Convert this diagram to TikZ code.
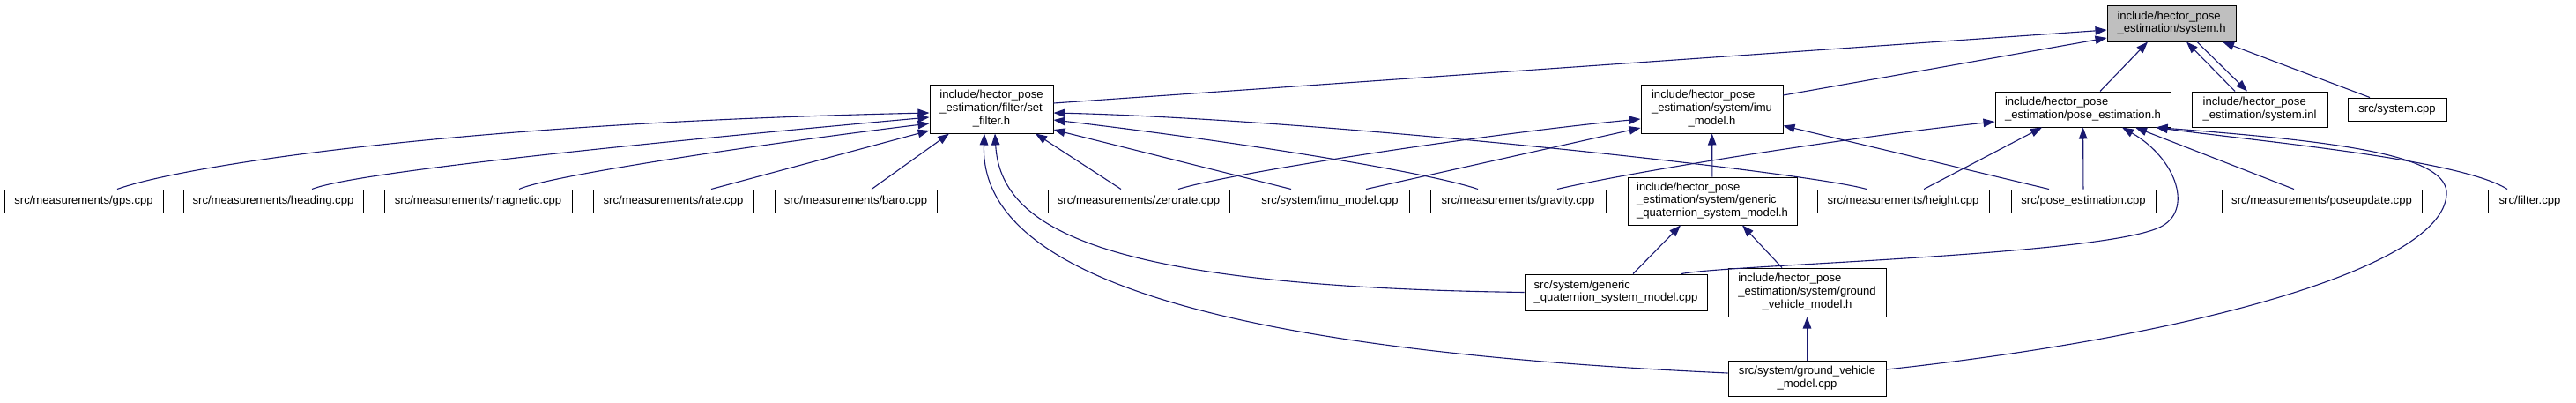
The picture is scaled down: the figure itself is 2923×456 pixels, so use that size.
\documentclass[tikz,border=0pt]{standalone}
\usepackage{fontspec}
\setmainfont{Liberation Sans}
\usepackage{tikz}
\usetikzlibrary{arrows.meta, positioning}

\definecolor{incl}{HTML}{191970}
\definecolor{curfile}{HTML}{BFBFBF}
\newcommand{\dox}{\fontsize{13.1}{14.7}\selectfont}
% left aligned lines, last line centred (as doxygen does)
\newcommand{\dlab}[2]{\begin{tabular}{@{}l@{}}#1\\\multicolumn{1}{@{}c@{}}{#2}\end{tabular}}

\begin{document}
\begin{tikzpicture}[x=1pt, y=-1pt, >={Triangle[length=13pt,width=9.5pt]},
    box/.style={draw=black, line width=1pt, fill=white, rectangle, inner sep=0pt, font=\dox},
    dep/.style={->, incl, line width=1.1pt}]
    \useasboundingbox (0,0) rectangle (2923,456);

    % headers
    \node[box, fill=curfile, minimum width=146pt, minimum height=41pt] (sysh) at (2464,26.5) {\dlab{include/hector\_pose}{\_estimation/system.h}};
    \node[box, minimum width=140pt, minimum height=55pt] (setfilter) at (1125,123.5) {\dlab{include/hector\_pose\\\_estimation/filter/set}{\_filter.h}};
    \node[box, minimum width=161pt, minimum height=55pt] (imuh) at (1942.5,123.5) {\dlab{include/hector\_pose\\\_estimation/system/imu}{\_model.h}};
    \node[box, minimum width=199pt, minimum height=40pt] (poseh) at (2363.5,124) {\dlab{include/hector\_pose}{\_estimation/pose\_estimation.h}};
    \node[box, minimum width=154pt, minimum height=40pt] (sysinl) at (2564,124) {\dlab{include/hector\_pose}{\_estimation/system.inl}};
    \node[box, minimum width=112pt, minimum height=26pt] (syscpp) at (2720,124) {src/system.cpp};
    \node[box, minimum width=192pt, minimum height=54pt] (genh) at (1943,228) {\dlab{include/hector\_pose\\\_estimation/system/generic}{\_quaternion\_system\_model.h}};
    \node[box, minimum width=179pt, minimum height=55pt] (groundh) at (2050.5,331.5) {\dlab{include/hector\_pose\\\_estimation/system/ground}{\_vehicle\_model.h}};

    % sources
    \node[box, minimum width=180pt, minimum height=26pt] (gps) at (95,228) {src/measurements/gps.cpp};
    \node[box, minimum width=204pt, minimum height=26pt] (heading) at (310,228) {src/measurements/heading.cpp};
    \node[box, minimum width=213pt, minimum height=26pt] (magnetic) at (542.5,228) {src/measurements/magnetic.cpp};
    \node[box, minimum width=182pt, minimum height=26pt] (rate) at (764,228) {src/measurements/rate.cpp};
    \node[box, minimum width=184pt, minimum height=26pt] (baro) at (971,228) {src/measurements/baro.cpp};
    \node[box, minimum width=206pt, minimum height=26pt] (zerorate) at (1292,228) {src/measurements/zerorate.cpp};
    \node[box, minimum width=180pt, minimum height=26pt] (imucpp) at (1509,228) {src/system/imu\_model.cpp};
    \node[box, minimum width=199pt, minimum height=26pt] (gravity) at (1722.5,228) {src/measurements/gravity.cpp};
    \node[box, minimum width=195pt, minimum height=26pt] (height) at (2159.5,228) {src/measurements/height.cpp};
    \node[box, minimum width=164pt, minimum height=26pt] (posecpp) at (2364,228) {src/pose\_estimation.cpp};
    \node[box, minimum width=227pt, minimum height=26pt] (poseupdate) at (2634.5,228) {src/measurements/poseupdate.cpp};
    \node[box, minimum width=95pt, minimum height=26pt] (filtercpp) at (2870.5,228) {src/filter.cpp};
    \node[box, minimum width=207pt, minimum height=41pt] (gencpp) at (1833.5,331.5) {\dlab{src/system/generic}{\_quaternion\_system\_model.cpp}};
    \node[box, minimum width=179pt, minimum height=40pt] (groundcpp) at (2050.5,429) {\dlab{src/system/ground\_vehicle}{\_model.cpp}};

    % into system.h
    \path[dep] ([yshift=6.5pt]setfilter.east) edge ([yshift=-7.5pt]sysh.west);
    \path[dep] ([yshift=15.5pt]imuh.east) edge ([yshift=-16.5pt]sysh.west);
    \path[dep] ([xshift=19.5pt]poseh.north) edge ([xshift=-27pt]sysh.south);
    \path[dep] ([xshift=-28pt]sysinl.north) edge ([xshift=17pt]sysh.south);
    \path[dep] ([xshift=29pt]sysh.south) edge ([xshift=-14pt]sysinl.north);
    \path[dep] ([xshift=-31pt]syscpp.north) edge ([xshift=58pt]sysh.south);

    % into set_filter.h
    \draw[dep] ([xshift=38pt]gps.north) .. controls (200,190) and (500,140) .. ([yshift=-4.5pt]setfilter.west);
    \draw[dep] ([xshift=44pt]heading.north) .. controls (400,196) and (700,165) .. ([yshift=-9.5pt]setfilter.west);
    \draw[dep] ([xshift=46.5pt]magnetic.north) .. controls (620,200) and (850,165) .. ([yshift=-16.5pt]setfilter.west);
    \path[dep] ([xshift=43pt]rate.north) edge ([yshift=-24.5pt]setfilter.west);
    \path[dep] ([xshift=18pt]baro.north) edge ([xshift=-48pt]setfilter.south);
    \path[dep] ([xshift=-20pt]zerorate.north) edge ([xshift=50pt]setfilter.south);
    \path[dep] ([xshift=-44pt]imucpp.north) edge ([yshift=-23.5pt]setfilter.east);
    \draw[dep] ([xshift=-45.5pt]gravity.north) .. controls (1620,195) and (1400,160) .. ([yshift=-12.5pt]setfilter.east);
    \draw[dep] ([xshift=-41.5pt]height.north) .. controls (2050,195) and (1500,135) .. ([yshift=-4.5pt]setfilter.east);
    \draw[dep] (gencpp.west) .. controls (1250,325) and (1135,260) .. ([xshift=4pt]setfilter.south);
    \draw[dep] ([yshift=6pt]groundcpp.west) .. controls (1450,400) and (1110,330) .. ([xshift=-8pt]setfilter.south);

    % into imu_model.h
    \draw[dep] ([xshift=45pt]zerorate.north) .. controls (1400,195) and (1700,150) .. ([yshift=-11.5pt]imuh.west);
    \path[dep] ([xshift=41pt]imucpp.north) edge ([yshift=-21.5pt]imuh.west);
    \path[dep] (genh) edge (imuh);
    \path[dep] ([xshift=-39pt]posecpp.north) edge ([yshift=-19pt]imuh.east);

    % into pose_estimation.h
    \draw[dep] ([xshift=44.5pt]gravity.north) .. controls (1850,195) and (2100,155) .. ([yshift=-14pt]poseh.west);
    \path[dep] ([xshift=23.5pt]height.north) edge ([xshift=-46.5pt]poseh.south);
    \path[dep] (posecpp) edge (poseh);
    \draw[dep] ([xshift=74.5pt]gencpp.north) .. controls (1960,300) and (2380,290) .. (2450,258)
        .. controls (2490,240) and (2470,180) .. ([xshift=44.5pt]poseh.south);
    \path[dep] ([xshift=-31.5pt]poseupdate.north) edge ([xshift=59.5pt]poseh.south);
    \draw[dep] ([xshift=-25.5pt]filtercpp.north) .. controls (2790,180) and (2560,160) .. ([xshift=83pt]poseh.south);
    \draw[dep] ([yshift=10pt]groundcpp.east) .. controls (2500,380) and (2780,300) .. (2776,217)
        .. controls (2772,175) and (2650,160) .. ([xshift=83pt]poseh.south);

    % generic / ground vehicle
    \path[dep] ([xshift=19.5pt]gencpp.north) edge ([xshift=-36pt]genh.south);
    \path[dep] ([xshift=-28.5pt]groundh.north) edge ([xshift=34pt]genh.south);
    \path[dep] (groundcpp) edge (groundh);
\end{tikzpicture}
\end{document}
